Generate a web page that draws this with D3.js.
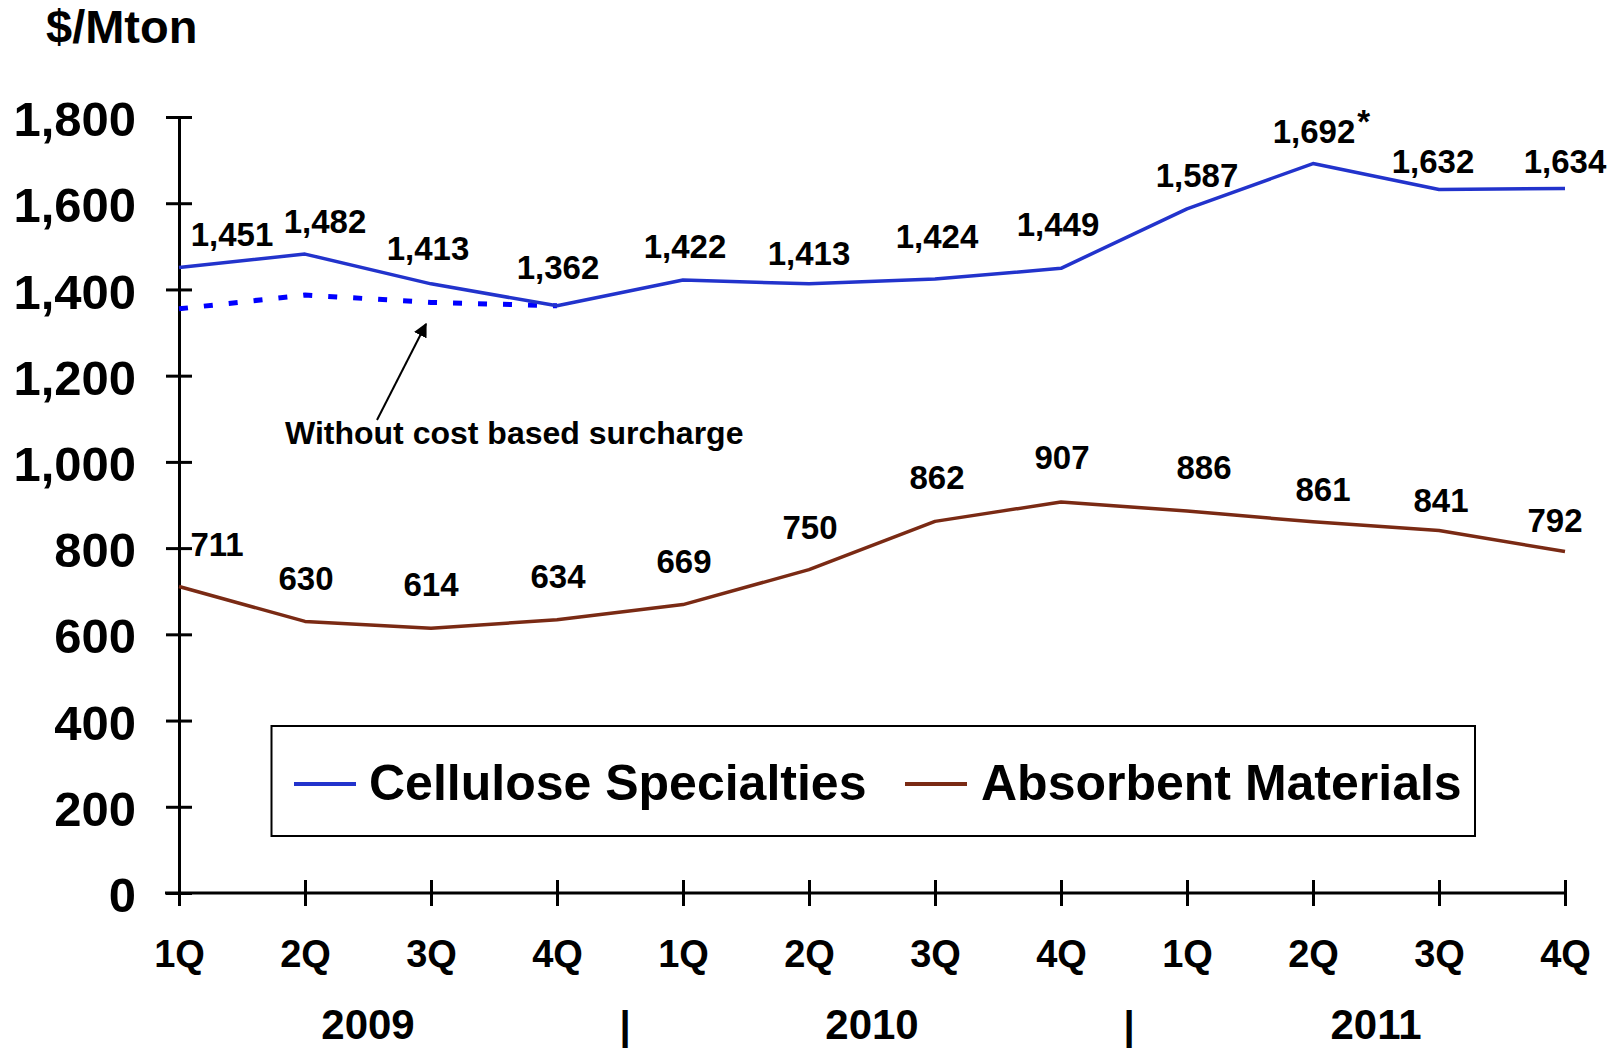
<!DOCTYPE html>
<html>
<head>
<meta charset="utf-8">
<script src="https://cdn.jsdelivr.net/npm/d3@7"></script>
<style>
  html, body { margin: 0; padding: 0; background: #fff; }
  svg { display: block; }
  text { font-family: "Liberation Sans", Arial, sans-serif; font-weight: bold; fill: #000; }
</style>
</head>
<body>
<svg id="chart" width="1616" height="1048"></svg>
<script>
// ---- data ----
const quarters = ["1Q","2Q","3Q","4Q","1Q","2Q","3Q","4Q","1Q","2Q","3Q","4Q"];
const years = ["2009","2010","2011"];
const cellulose = [1451, 1482, 1413, 1362, 1422, 1413, 1424, 1449, 1587, 1692, 1632, 1634];
const absorbent = [711, 630, 614, 634, 669, 750, 862, 907, 886, 861, 841, 792];
const withoutSurcharge = [1355, 1387, 1370, 1362];   // first four quarters of 2009
const cellNotes = ["", "", "", "", "", "", "", "", "", "*", "", ""];
const yTicks = [0, 200, 400, 600, 800, 1000, 1200, 1400, 1600, 1800];
const seriesNames = ["Cellulose Specialties", "Absorbent Materials"];
const unitLabel = "$/Mton";
const annotation = "Without cost based surcharge";

// ---- layout (label nudges relative to their points) ----
const cellDx = [53, 20, -3, 1, 2, 0, 2, -3, 10, 1, -6, 0];
const cellDy = [-21, -21, -24, -27, -22, -19, -31, -32, -22, -21, -16, -16];
const absDx  = [38, 1, 0, 1, 1, 1, 2, 1, 17, 10, 2, -10];
const absDy  = [-30, -31, -32, -32, -32, -31, -32, -33, -32, -21, -18, -20];

const BLUE = "#2233cc", BROWN = "#7a2a14", DOT = "#0000ff";

const svg = d3.select("#chart");
const x = d3.scaleLinear().domain([0, quarters.length - 1]).range([179, 1565]);
const y = d3.scaleLinear().domain([0, 1800]).range([893, 117]);

// unit label
svg.append("text").attr("x", 46).attr("y", 43).attr("font-size", 47).text(unitLabel);

// Y axis
const yAxis = d3.axisLeft(y).tickValues(yTicks).tickFormat(d3.format(",")).tickSize(13).tickPadding(30);
const gy = svg.append("g").attr("transform", `translate(${x(0)},0)`).call(yAxis);
gy.select(".domain").attr("stroke", "#000").attr("stroke-width", 3);
gy.selectAll(".tick line").attr("stroke", "#000").attr("stroke-width", 3);
gy.selectAll(".tick").append("line").attr("x1", 0).attr("x2", 13).attr("stroke", "#000").attr("stroke-width", 3);
gy.selectAll(".tick text").attr("font-size", 49).attr("font-family", "Liberation Sans, Arial, sans-serif")
  .attr("font-weight", "bold").attr("fill", "#000").attr("dy", "0.38em").attr("x", -43);

// X axis
const xAxis = d3.axisBottom(x).tickValues(d3.range(quarters.length)).tickFormat(i => quarters[i]).tickSize(13).tickSizeOuter(0);
const gx = svg.append("g").attr("transform", `translate(0,${y(0)})`).call(xAxis);
gx.select(".domain").attr("d", `M${x(0) - 14},0H${x(quarters.length - 1)}`).attr("stroke", "#000").attr("stroke-width", 3);
gx.selectAll(".tick line").attr("stroke", "#000").attr("stroke-width", 3).attr("y1", -13).attr("y2", 13);
gx.selectAll(".tick text").attr("font-size", 38).attr("font-family", "Liberation Sans, Arial, sans-serif")
  .attr("font-weight", "bold").attr("fill", "#000").attr("y", 74).attr("dy", null);

// year labels and separators
years.forEach((yr, k) => {
  const cx = (x(k * 4) + x(k * 4 + 3)) / 2;
  svg.append("text").attr("x", cx).attr("y", 1039).attr("font-size", 42).attr("text-anchor", "middle").text(yr);
  if (k < years.length - 1) {
    const sx = (x(k * 4 + 3) + x(k * 4 + 4)) / 2 + 5;
    svg.append("text").attr("x", sx).attr("y", 1040).attr("font-size", 40).attr("text-anchor", "middle").text("|");
  }
});

// lines
const line = d3.line().x((d, i) => x(i)).y(d => y(d));
svg.append("path").datum(withoutSurcharge).attr("d", line).attr("fill", "none")
  .attr("stroke", DOT).attr("stroke-width", 5).attr("stroke-dasharray", "9 16");
svg.append("path").datum(absorbent).attr("d", line).attr("fill", "none")
  .attr("stroke", BROWN).attr("stroke-width", 3.5).attr("stroke-linejoin", "round");
svg.append("path").datum(cellulose).attr("d", line).attr("fill", "none")
  .attr("stroke", BLUE).attr("stroke-width", 3.5).attr("stroke-linejoin", "round");

// data labels
const fmt = d3.format(",");
cellulose.forEach((v, i) => {
  const t = svg.append("text").attr("x", x(i) + cellDx[i]).attr("y", y(v) + cellDy[i])
    .attr("font-size", 33).attr("text-anchor", "middle").text(fmt(v));
  if (cellNotes[i]) {
    const w = t.node().getComputedTextLength();
    svg.append("text").attr("x", x(i) + cellDx[i] + w / 2 + 2).attr("y", y(v) + cellDy[i] - 10)
      .attr("font-size", 33).text(cellNotes[i]);
  }
});
absorbent.forEach((v, i) => {
  svg.append("text").attr("x", x(i) + absDx[i]).attr("y", y(v) + absDy[i])
    .attr("font-size", 33).attr("text-anchor", "middle").text(fmt(v));
});

// annotation with arrow
svg.append("defs").append("marker").attr("id", "arrow").attr("viewBox", "0 0 10 10")
  .attr("refX", 9).attr("refY", 5).attr("markerWidth", 7).attr("markerHeight", 7)
  .attr("markerUnits", "strokeWidth").attr("orient", "auto")
  .append("path").attr("d", "M0,0L10,5L0,10z").attr("fill", "#000");
svg.append("line").attr("x1", 377).attr("y1", 420).attr("x2", 426).attr("y2", 324)
  .attr("stroke", "#000").attr("stroke-width", 2).attr("marker-end", "url(#arrow)");
svg.append("text").attr("x", 285).attr("y", 444).attr("font-size", 32).text(annotation);

// legend
svg.append("rect").attr("x", 271.5).attr("y", 726).attr("width", 1203.5).attr("height", 110)
  .attr("fill", "#fff").attr("stroke", "#000").attr("stroke-width", 2);
const legendItems = [
  { name: seriesNames[0], color: BLUE, lx: 294, tx: 369 },
  { name: seriesNames[1], color: BROWN, lx: 905, tx: 981 }
];
legendItems.forEach(it => {
  svg.append("line").attr("x1", it.lx).attr("x2", it.lx + 62).attr("y1", 784).attr("y2", 784)
    .attr("stroke", it.color).attr("stroke-width", 4);
  svg.append("text").attr("x", it.tx).attr("y", 800).attr("font-size", 50).text(it.name);
});
</script>
</body>
</html>
